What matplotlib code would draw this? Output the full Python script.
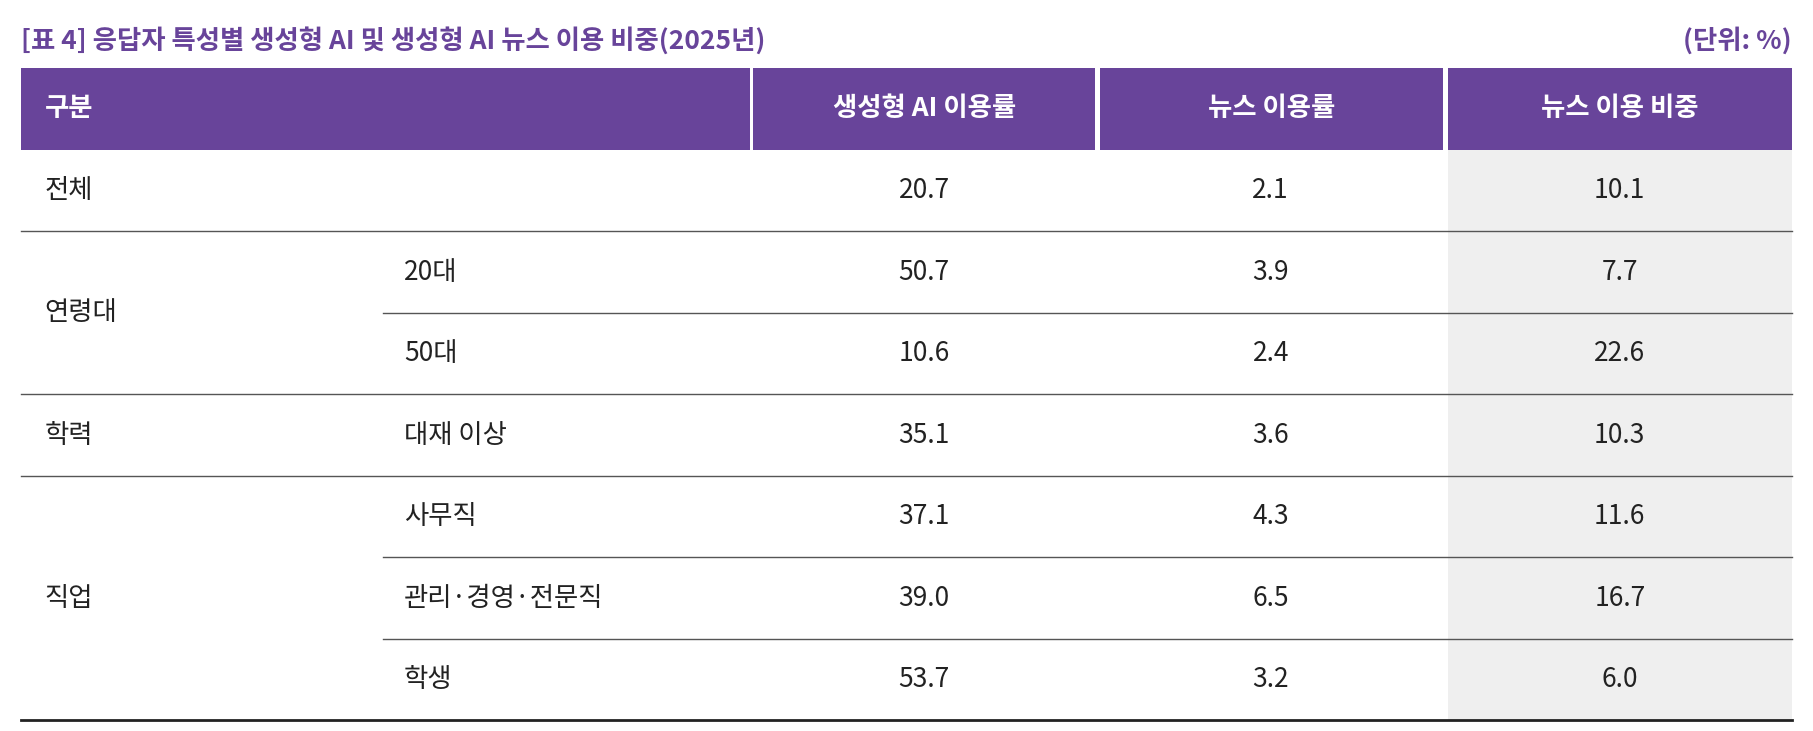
import matplotlib
matplotlib.use("Agg")
import matplotlib.pyplot as plt
from matplotlib.patches import Rectangle

plt.rcParams['font.family'] = ['Noto Sans CJK KR', 'DejaVu Sans']

title = "[표 4] 응답자 특성별 생성형 AI 및 생성형 AI 뉴스 이용 비중(2025년)"
unit = "(단위: %)"
headers = ["구분", "생성형 AI 이용률", "뉴스 이용률", "뉴스 이용 비중"]
groups = ["전체", "연령대", "", "학력", "직업", "", ""]
group_spans = [("전체", 0, 1), ("연령대", 1, 3), ("학력", 3, 4), ("직업", 4, 7)]
subs = ["", "20대", "50대", "대재 이상", "사무직", "관리·경영·전문직", "학생"]
ai_use = ["20.7", "50.7", "10.6", "35.1", "37.1", "39.0", "53.7"]
news_use = ["2.1", "3.9", "2.4", "3.6", "4.3", "6.5", "3.2"]
news_share = ["10.1", "7.7", "22.6", "10.3", "11.6", "16.7", "6.0"]

W, H = 1548, 624
purple = "#68449a"
fig = plt.figure(figsize=(18.13, 7.31), dpi=100)
ax = fig.add_axes([0, 0, 1, 1])
ax.set_xlim(0, W); ax.set_ylim(H, 0); ax.axis('off')

ax.text(18, 35, title, color=purple, fontsize=19, fontweight='bold', va='center', ha='left')
ax.text(1530, 35, unit, color=purple, fontsize=19, fontweight='bold', va='center', ha='right')

hy0, hy1 = 58, 128
hcols = [(18, 640), (643, 935), (939, 1232), (1236, 1530)]
for (a, b) in hcols:
    ax.add_patch(Rectangle((a, hy0), b - a, hy1 - hy0, color=purple, lw=0))
ax.text(38, 93, headers[0], color='white', fontsize=19, fontweight='bold', va='center')
for (a, b), h in zip(hcols[1:], headers[1:]):
    ax.text((a + b) / 2, 93, h, color='white', fontsize=19, fontweight='bold', va='center', ha='center')

rh = (615 - 128) / 7
ax.add_patch(Rectangle((1236, 128), 1530 - 1236, 615 - 128, color='#efefef', lw=0, zorder=0))
for i in range(7):
    yc = 128 + rh * (i + 0.5)
    if subs[i]:
        ax.text(345, yc, subs[i], fontsize=19, va='center', color='#222222')
    for xc, v in zip([789, 1085, 1383], [ai_use[i], news_use[i], news_share[i]]):
        ax.text(xc, yc, v, fontsize=19, va='center', ha='center', color='#222222')
for name, s, e in group_spans:
    ax.text(38, 128 + rh * (s + e) / 2, name, fontsize=19, va='center', color='#222222')
    if e < 7:
        ax.plot([18, 1530], [128 + rh * e] * 2, color='#555555', lw=1)
    for k in range(s + 1, e):
        ax.plot([327, 1530], [128 + rh * k] * 2, color='#555555', lw=1)
ax.plot([18, 1530], [615, 615], color='#222222', lw=2)

fig.savefig("out.png", dpi=100)
